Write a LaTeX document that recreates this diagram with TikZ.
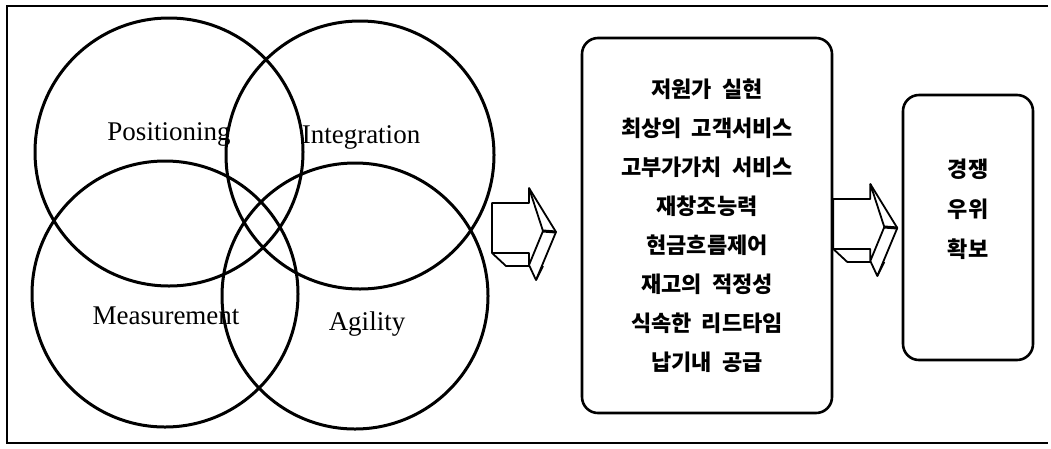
\documentclass[tikz,border=0pt]{standalone}
\usepackage{fontspec}
\setmainfont{Liberation Serif}
\newfontfamily\kr[WordSpace=2]{Noto Sans CJK KR}
\usetikzlibrary{positioning}

\tikzset{
    ring/.style={line width=3pt},
    setname/.style={anchor=base,font=\fontsize{27}{30}\selectfont},
    goalbox/.style={draw,line width=2.6pt,rounded corners=16pt},
    goaltext/.style={align=center,font=\kr\bfseries\fontsize{22}{39}\selectfont},
    pics/fatarrow/.style={code={
        \draw[line width=1.8pt,fill=white,line join=round]
            (0,-25) -- (37,-25) -- (37,-40) -- (51,3) -- (37,37) -- (37,25) -- (0,25) -- cycle;
        \draw[line width=1.8pt,line join=round] (37,-40) -- (64,4) -- (44,52) -- (37,37);
        \draw[line width=3pt] (51,3) -- (64,4);
        \draw[line width=1.8pt,line join=round] (0,25) -- (14,38) -- (37,38);
        \draw[line width=1.8pt] (44,52) -- (51,38);
    }}
}

\begin{document}
\begin{tikzpicture}[x=1pt,y=-1pt]
    \useasboundingbox (0,0) rectangle (1051,448);
    \draw[line width=1.4pt] (1048,6) -- (7,6) -- (7,443) -- (1048,443);

    % four sets
    \draw[ring] (169,152) circle (134pt);
    \draw[ring] (360,155) circle (134pt);
    \draw[ring] (165,294) circle (133pt);
    \draw[ring] (355,296) circle (133pt);

    \node[setname] (pos) at (169,140) {Positioning};
    \node[setname] (int) at (361,143) {Integration};
    \node[setname] (mea) at (166,324) {Measurement};
    \node[setname] (agi) at (367,330) {Agility};

    \node[goalbox,minimum width=250pt,minimum height=375pt] (mid) at (707,225.5) {};
    \node[goaltext] (midtxt) at (mid.center)
        {저원가 실현\\최상의 고객서비스\\고부가가치 서비스\\재창조능력\\현금흐름제어\\재고의 적정성\\식속한 리드타임\\납기내 공급};
    \node[goalbox,minimum width=130pt,minimum height=265pt] (goal) at (968,227.5) {};
    \node[goaltext,yshift=18pt] (goaltxt) at (goal.center)
        {경쟁\\[1pt]우위\\[1pt]확보};

    \pic at (492,228) {fatarrow};
    \pic at (mid.east |- 0,224) {fatarrow};
\end{tikzpicture}
\end{document}
